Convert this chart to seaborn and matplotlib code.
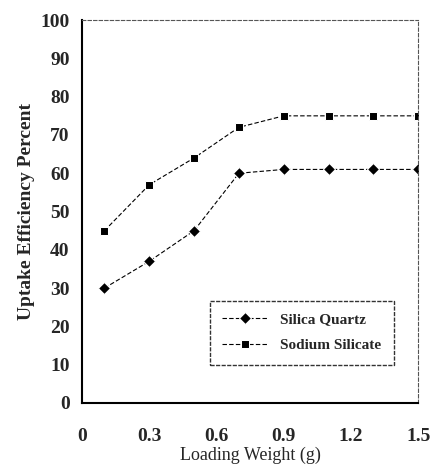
import matplotlib
matplotlib.use("Agg")
import matplotlib.pyplot as plt
import seaborn as sns
import pandas as pd

# values
loading = [0.1, 0.3, 0.5, 0.7, 0.9, 1.1, 1.3, 1.5]
silica_quartz = [30, 37, 45, 60, 61, 61, 61, 61]
sodium_silicate = [45, 57, 64, 72, 75, 75, 75, 75]
x_ticks = [0, 0.3, 0.6, 0.9, 1.2, 1.5]
x_tick_labels = ["0", "0.3", "0.6", "0.9", "1.2", "1.5"]
y_ticks = list(range(0, 101, 10))

sns.set_theme(style="white")
plt.rcParams['font.family'] = ['Liberation Serif', 'DejaVu Serif']

df = pd.DataFrame({
    "Loading Weight (g)": loading * 2,
    "Uptake": silica_quartz + sodium_silicate,
    "Material": ["Silica Quartz"] * len(loading) + ["Sodium Silicate"] * len(loading),
})

fig = plt.figure(figsize=(4.32, 4.69), dpi=100)
ax = fig.add_axes([0.19, 0.141, 0.778, 0.816])

sns.lineplot(data=df, x="Loading Weight (g)", y="Uptake", hue="Material", style="Material",
             markers={"Silica Quartz": "D", "Sodium Silicate": "s"},
             dashes={"Silica Quartz": (4, 2), "Sodium Silicate": (4, 2)},
             palette={"Silica Quartz": "black", "Sodium Silicate": "black"},
             markersize=6, linewidth=0.8, ax=ax)

ax.set_xlim(0, 1.5)
ax.set_ylim(0, 100)
ax.set_xticks(x_ticks)
ax.set_xticklabels(x_tick_labels)
ax.set_yticks(y_ticks)
ax.tick_params(axis="x", direction="in", length=5, pad=18, labelsize=14, width=1.2)
ax.tick_params(axis="y", direction="out", length=3, pad=6, labelsize=14, width=1)
for lbl in ax.get_xticklabels() + ax.get_yticklabels():
    lbl.set_fontweight("bold")

ax.set_xlabel("Loading Weight (g)", fontsize=13, labelpad=1)
ax.set_ylabel("Uptake Efficiency Percent", fontsize=14, fontweight="bold", labelpad=4)

for side in ["left", "bottom"]:
    ax.spines[side].set_color("black")
    ax.spines[side].set_linewidth(1.5)
for side in ["top", "right"]:
    ax.spines[side].set_color("#555555")
    ax.spines[side].set_linewidth(0.8)
    ax.spines[side].set_linestyle((0, (3, 2)))

leg = ax.legend(loc="lower right", bbox_to_anchor=(0.95, 0.08), frameon=True,
                fancybox=False, edgecolor="black", handlelength=3.0,
                prop={"size": 11, "weight": "bold"}, borderpad=0.8, labelspacing=0.8)
leg.get_frame().set_linewidth(1.0)
leg.get_frame().set_linestyle((0, (3, 1)))

fig.savefig("out.png", dpi=100)
